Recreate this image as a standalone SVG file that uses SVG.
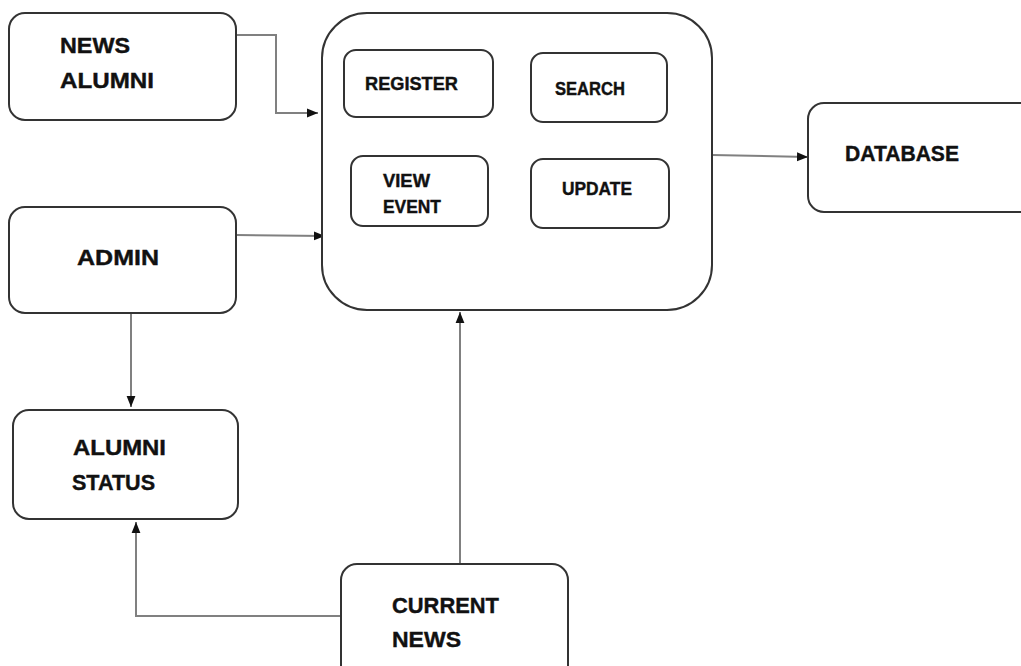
<svg xmlns="http://www.w3.org/2000/svg" width="1021" height="666" viewBox="0 0 1021 666">
<style>
.box{fill:#fff;stroke:#333;stroke-width:2}
.lbl{font-family:"Liberation Sans",Arial,sans-serif;font-weight:bold;fill:#111;stroke:#111;stroke-width:0.4}
.big{font-size:22px}
.sm{font-size:18px}
.con{fill:none;stroke:#808080;stroke-width:2}
</style>
<defs>
<marker id="ah" markerUnits="userSpaceOnUse" markerWidth="11" markerHeight="11" viewBox="0 0 10 10" refX="10" refY="5" orient="auto">
<path d="M0,1 L10,5 L0,9 Z" fill="#111"/>
</marker>
</defs>
<rect x="0" y="0" width="1021" height="666" fill="#fff"/>
<g id="connectors">
<polyline class="con" points="236,35 276,35 276,113 318,113" marker-end="url(#ah)"/>
<line class="con" x1="236" y1="235" x2="325" y2="236" marker-end="url(#ah)"/>
<line class="con" x1="712" y1="155" x2="808" y2="157" marker-end="url(#ah)"/>
<line class="con" x1="131" y1="313" x2="131" y2="407" marker-end="url(#ah)"/>
<line class="con" x1="460" y1="564" x2="460" y2="312" marker-end="url(#ah)"/>
<polyline class="con" points="341,616 136,616 136,522" marker-end="url(#ah)"/>
</g>
<g id="news-alumni">
<rect class="box" x="9" y="13" width="227" height="107" rx="16"/>
<text class="lbl big" x="60" y="53" textLength="70" lengthAdjust="spacingAndGlyphs">NEWS</text>
<text class="lbl big" x="60" y="88" textLength="94" lengthAdjust="spacingAndGlyphs">ALUMNI</text>
</g>
<g id="admin">
<rect class="box" x="9" y="207" width="227" height="106" rx="16"/>
<text class="lbl big" x="77" y="265" textLength="82" lengthAdjust="spacingAndGlyphs">ADMIN</text>
</g>
<g id="system">
<rect class="box" x="322" y="13" width="390" height="297" rx="45"/>
</g>
<g id="register">
<rect class="box" x="344" y="50" width="149" height="67" rx="12"/>
<text class="lbl sm" x="365" y="90" textLength="93" lengthAdjust="spacingAndGlyphs">REGISTER</text>
</g>
<g id="search">
<rect class="box" x="531" y="53" width="136" height="69" rx="12"/>
<text class="lbl sm" x="555" y="95" textLength="70" lengthAdjust="spacingAndGlyphs">SEARCH</text>
</g>
<g id="view-event">
<rect class="box" x="351" y="156" width="137" height="70" rx="12"/>
<text class="lbl sm" x="383" y="187" textLength="47" lengthAdjust="spacingAndGlyphs">VIEW</text>
<text class="lbl sm" x="383" y="213" textLength="58" lengthAdjust="spacingAndGlyphs">EVENT</text>
</g>
<g id="update">
<rect class="box" x="531" y="159" width="138" height="69" rx="12"/>
<text class="lbl sm" x="562" y="195" textLength="70" lengthAdjust="spacingAndGlyphs">UPDATE</text>
</g>
<g id="database">
<rect class="box" x="808" y="103" width="230" height="109" rx="16"/>
<text class="lbl big" x="845" y="161" textLength="114" lengthAdjust="spacingAndGlyphs">DATABASE</text>
</g>
<g id="alumni-status">
<rect class="box" x="13" y="410" width="225" height="109" rx="16"/>
<text class="lbl big" x="73" y="455" textLength="93" lengthAdjust="spacingAndGlyphs">ALUMNI</text>
<text class="lbl big" x="72" y="490" textLength="83" lengthAdjust="spacingAndGlyphs">STATUS</text>
</g>
<g id="current-news">
<rect class="box" x="341" y="564" width="227" height="120" rx="16"/>
<text class="lbl big" x="392" y="613" textLength="107" lengthAdjust="spacingAndGlyphs">CURRENT</text>
<text class="lbl big" x="392" y="647" textLength="69" lengthAdjust="spacingAndGlyphs">NEWS</text>
</g>
</svg>
